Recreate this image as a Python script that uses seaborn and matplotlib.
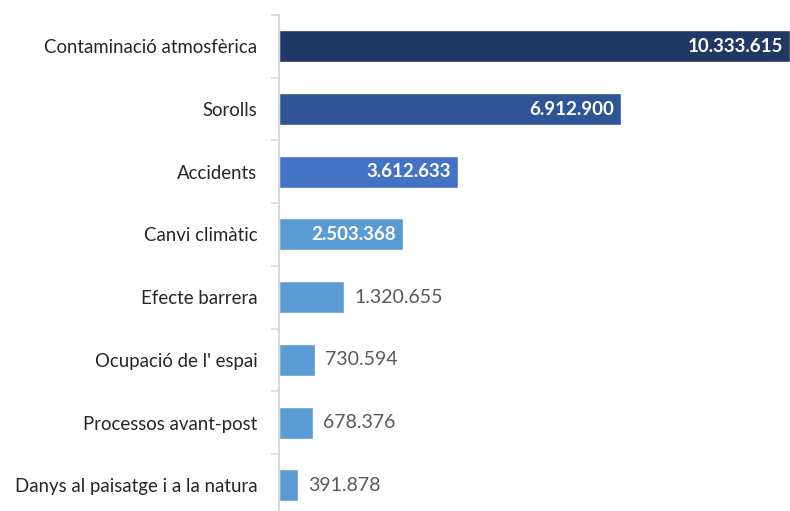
import matplotlib
matplotlib.use("Agg")
import matplotlib.pyplot as plt
import seaborn as sns
import pandas as pd

# Dades del gràfic
categories = [
    "Contaminació atmosfèrica",
    "Sorolls",
    "Accidents",
    "Canvi climàtic",
    "Efecte barrera",
    "Ocupació de l' espai",
    "Processos avant-post",
    "Danys al paisatge i a la natura",
]
values = [10333615, 6912900, 3612633, 2503368, 1320655, 730594, 678376, 391878]
value_labels = ["10.333.615", "6.912.900", "3.612.633", "2.503.368",
                "1.320.655", "730.594", "678.376", "391.878"]
bar_colors = ["#1F3864", "#2F5597", "#4472C4", "#5B9BD5",
              "#5B9BD5", "#5B9BD5", "#5B9BD5", "#5B9BD5"]
inside = [True, True, True, True, False, False, False, False]

sns.set_style("white")
plt.rcParams["font.family"] = ["Lato", "DejaVu Sans"]

df = pd.DataFrame({"cat": categories, "val": values})

fig = plt.figure(figsize=(7.9, 5.11), dpi=100)
ax = fig.add_axes([279 / 790, 0, 511 / 790, 1 - 15 / 511])

sns.barplot(data=df, y="cat", x="val", hue="cat", palette=bar_colors,
            orient="h", width=0.51, legend=False, ax=ax, saturation=1)

ax.set_xlim(0, max(values))
ax.set_ylim(7.41, -0.5)
ax.set_xlabel("")
ax.set_ylabel("")
ax.set_xticks([])

for s in ["top", "right", "bottom"]:
    ax.spines[s].set_visible(False)
ax.spines["left"].set_color("#D9D9D9")
ax.spines["left"].set_linewidth(1.5)

ax.tick_params(axis="y", which="major", left=False, pad=12, labelsize=13.4,
               labelcolor="#262626")
ax.set_yticks([i - 0.5 for i in range(len(categories))], minor=True)
ax.tick_params(axis="y", which="minor", left=True, length=6, width=1.2,
               color="#D9D9D9")

px = max(values) / 511
for i, (v, lab, ins) in enumerate(zip(values, value_labels, inside)):
    if ins:
        ax.text(v - 7 * px, i, lab, ha="right", va="center", color="white",
                fontsize=13.5, fontweight="bold")
    else:
        ax.text(v + 10 * px, i, lab, ha="left", va="center", color="#595959",
                fontsize=14)

fig.savefig("out.png", dpi=100)
